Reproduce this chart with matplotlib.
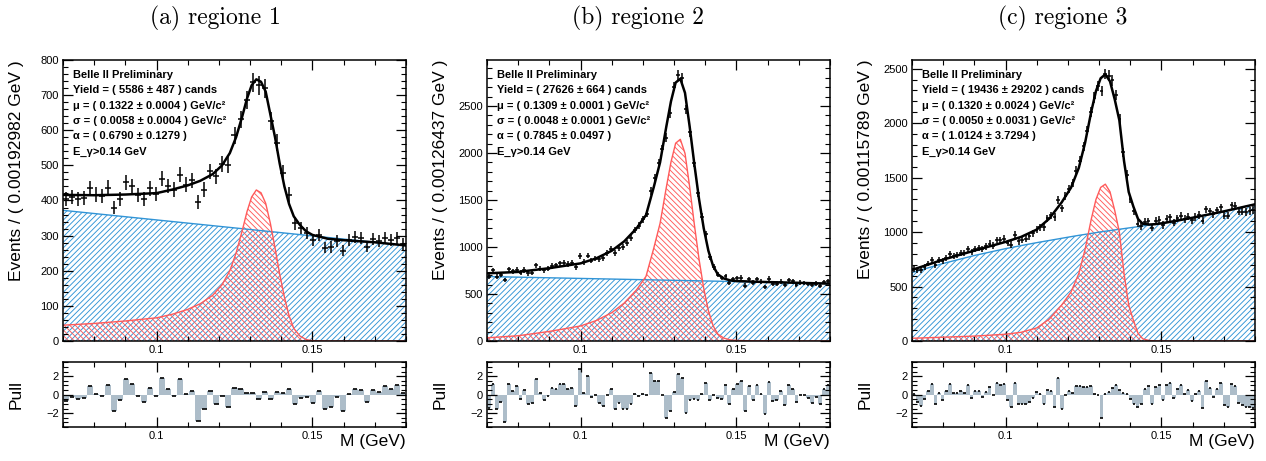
import numpy as np
import matplotlib.pyplot as plt
from matplotlib.ticker import MultipleLocator, FormatStrFormatter

plt.rcParams['font.family'] = ['Liberation Sans', 'DejaVu Sans']
plt.rcParams['hatch.linewidth'] = 0.65

#---- values ----#
x_lo, x_hi = 0.07, 0.18

# x points where the fitted curves were read
curve_x = [0.070, 0.080, 0.090, 0.100, 0.105, 0.110, 0.114, 0.118, 0.121, 0.1235,
           0.1255, 0.1275, 0.129, 0.1305, 0.132, 0.1335, 0.135, 0.1365, 0.138, 0.1395,
           0.141, 0.1425, 0.144, 0.146, 0.148, 0.150, 0.155, 0.160, 0.170, 0.180]

# region 1 : 57 bins
r1_counts = [403, 411, 405, 408, 435, 417, 413, 437, 380, 405,
             452, 441, 416, 403, 435, 419, 462, 441, 431, 473,
             445, 457, 395, 431, 483, 469, 504, 502, 586, 631,
             686, 736, 728, 719, 627, 565, 479, 417, 335, 322,
             308, 287, 302, 266, 267, 285, 257, 287, 296, 292,
             269, 290, 285, 294, 288, 293, 276]
r1_pull = [-0.64, -0.2, -0.5, -0.35, 0.96, 0.1, -0.1, 1.03, -1.74, -0.57,
           1.7, 1.13, -0.1, -0.78, 0.74, -0.1, 1.8, 0.57, -0.1, 1.67,
           0.1, 0.4, -2.87, -1.52, 0.39, -0.96, -0.18, -1.3, 0.74, 0.6,
           0.18, 0.18, -0.5, 0.25, -0.43, 0.28, 0.2, 0.6, -1.06, -0.39,
           -0.2, -0.89, 0.35, -1.5, -1.35, -0.2, -1.77, 0.04, 0.64, 0.5,
           -0.82, 0.5, 0.28, 0.96, 0.67, 1.1, 0.18]
r1_total = [416, 415, 417, 421, 431, 443, 456, 475, 500, 535,
            580, 640, 690, 728, 745, 738, 710, 645, 580, 505,
            440, 390, 355, 330, 312, 302, 291, 287, 281, 272]
r1_sig = [45, 50, 57, 66, 76, 90, 106, 130, 160, 200,
          250, 315, 368, 410, 430, 422, 392, 335, 265, 190,
          125, 72, 36, 14, 4, 1, 0, 0, 0, 0]
r1_bkg_x = [0.07, 0.18]
r1_bkg = [372, 272]

# region 2 : 87 bins
r2_counts = [683, 754, 682, 705, 649, 762, 743, 758, 726, 756,
             719, 728, 806, 768, 752, 768, 799, 804, 826, 833,
             821, 833, 784, 905, 841, 909, 855, 876, 869, 879,
             936, 975, 938, 991, 999, 1041, 1101, 1183, 1228, 1295,
             1355, 1595, 1732, 1897, 2044, 2165, 2425, 2707, 2830, 2800,
             2464, 2223, 1893, 1577, 1323, 1134, 895, 788, 703, 670,
             688, 620, 657, 668, 674, 590, 657, 619, 658, 632,
             575, 662, 608, 610, 633, 594, 648, 637, 600, 619,
             618, 608, 594, 609, 590, 628, 636]
r2_pull = [-1.42, 1.17, -1.6, -0.82, -2.98, 1.17, 0.39, 0.89, -0.43, 0.46,
           -1.06, -0.92, 1.74, 0.18, -0.57, -0.18, 0.71, 0.64, 1.2, 1.2,
           0.57, 0.74, -1.2, 2.77, 0.18, 2.02, -0.28, -0.04, -0.89, -1.24,
           -0.04, 0.57, -1.6, -0.89, -1.6, -1.5, -1.03, 0.1, -0.1, 0.1,
           0.0, 2.3, 1.52, 1.45, 0.0, -2.5, -1.74, 0.3, 2.2, 1.8,
           -1.95, -0.6, -0.46, -0.53, 0.04, 1.24, -0.6, 0.0, -0.35, -0.46,
           1.1, -1.06, 0.64, 1.17, 1.52, -1.77, 0.96, -0.53, 1.1, 0.1,
           -2.1, 1.38, -0.7, -0.6, 0.35, -1.17, 1.06, 0.64, -0.82, 0.0,
           0.0, -0.35, -0.89, -0.25, -0.96, 0.64, 1.0]
r2_total = [720, 735, 775, 826, 879, 960, 1060, 1200, 1340, 1640,
            1900, 2280, 2550, 2750, 2790, 2640, 2280, 1880, 1510, 1200,
            960, 800, 710, 665, 645, 638, 632, 627, 619, 610]
r2_sig = [34, 56, 102, 160, 217, 301, 404, 546, 688, 990,
          1251, 1633, 1904, 2105, 2146, 1997, 1638, 1239, 870, 561,
          322, 163, 74, 30, 12, 6, 2, 1, 0, 0]
r2_bkg_x = [0.07, 0.18]
r2_bkg = [686, 612]

# region 3 : 95 bins
r3_counts = [661, 649, 649, 680, 711, 743, 696, 740, 732, 765,
             798, 780, 790, 806, 808, 843, 814, 844, 853, 844,
             869, 893, 876, 927, 928, 940, 898, 886, 976, 915,
             926, 939, 961, 988, 1020, 1045, 1044, 1125, 1154, 1138,
             1291, 1218, 1328, 1393, 1452, 1563, 1656, 1787, 1931, 2104,
             2235, 2343, 2294, 2452, 2437, 2392, 2257, 2037, 1732, 1528,
             1306, 1192, 1076, 1054, 1094, 1099, 1040, 1101, 1111, 1065,
             1122, 1135, 1087, 1127, 1149, 1121, 1142, 1108, 1140, 1157,
             1103, 1209, 1190, 1162, 1199, 1227, 1152, 1152, 1245, 1243,
             1188, 1187, 1186, 1196, 1201]
r3_pull = [0.1, -0.78, -1.2, -0.43, 0.35, 1.13, -1.03, 0.18, -0.53, 0.35,
           1.2, 0.18, 0.21, 0.43, 0.14, 1.06, -0.32, 0.43, 0.43, -0.25,
           0.32, 0.82, -0.07, 1.31, 1.03, 1.13, -0.6, -1.35, 1.24, -1.06,
           -1.06, -1.06, -0.78, -0.35, 0.25, 0.07, -0.96, 0.53, 0.35, -1.38,
           1.77, -1.6, 0.0, 0.35, 0.2, 0.9, 0.9, 0.82, 0.85, 0.92,
           0.1, -0.07, -2.55, 0.1, 0.28, 0.75, 1.0, 0.53, 0.18, 0.1,
           -0.46, -0.96, -1.38, -1.06, 0.6, 0.92, -0.96, 0.82, 1.0, -0.53,
           1.03, 1.24, -0.39, 0.64, 1.1, 0.1, 0.53, -0.67, 0.1, 0.39,
           -1.42, 1.52, 0.75, -0.25, 0.64, 1.24, -1.13, -1.31, 1.17, 0.89,
           -0.89, -1.13, -1.38, -1.31, -1.42]
r3_total = [653, 747, 830, 910, 956, 1023, 1123, 1273, 1408, 1590,
            1819, 2108, 2295, 2412, 2448, 2384, 2220, 2026, 1652, 1368,
            1234, 1120, 1076, 1069, 1073, 1080, 1105, 1132, 1190, 1255]
r3_sig = [25, 35, 45, 62, 80, 120, 200, 330, 450, 620,
          840, 1120, 1300, 1410, 1440, 1370, 1200, 1000, 620, 330,
          190, 70, 20, 5, 1, 0, 0, 0, 0, 0]
r3_bkg_x = curve_x
r3_bkg = [628, 712, 785, 848, 876, 903, 923, 943, 958, 970,
          979, 988, 995, 1002, 1008, 1014, 1020, 1026, 1032, 1038,
          1044, 1050, 1056, 1064, 1072, 1080, 1105, 1132, 1190, 1255]

titles = ['(a) regione 1', '(b) regione 2', '(c) regione 3']
bin_widths = ['0.00192982', '0.00126437', '0.00115789']
yields = ['5586 \u00b1 487', '27626 \u00b1 664', '19436 \u00b1 29202']
mus = ['0.1322 \u00b1 0.0004', '0.1309 \u00b1 0.0001', '0.1320 \u00b1 0.0024']
sigmas = ['0.0058 \u00b1 0.0004', '0.0048 \u00b1 0.0001', '0.0050 \u00b1 0.0031']
alphas = ['0.6790 \u00b1 0.1279', '0.7845 \u00b1 0.0497', '1.0124 \u00b1 3.7294']

blue = '#3194d6'
red = '#ff5a5a'
pull_col = '#adbdc9'

W, H = 1266, 461
fig = plt.figure(figsize=(W / 100, H / 100), dpi=100)

panel_left = [63, 487, 912]
title_x = [215, 638, 1063]
ymaxes = [800, 2990, 2580]
ysteps = [(100, 20), (500, 100), (500, 100)]
regions = [(r1_counts, r1_pull, r1_total, r1_sig, r1_bkg_x, r1_bkg),
           (r2_counts, r2_pull, r2_total, r2_sig, r2_bkg_x, r2_bkg),
           (r3_counts, r3_pull, r3_total, r3_sig, r3_bkg_x, r3_bkg)]


def root_ticks(a):
    a.tick_params(which='both', direction='in', top=True, right=True, labelsize=8, pad=3)
    a.tick_params(which='major', length=7, width=0.9)
    a.tick_params(which='minor', length=3.5, width=0.8)
    a.xaxis.set_major_locator(MultipleLocator(0.05))
    a.xaxis.set_minor_locator(MultipleLocator(0.01))
    a.xaxis.set_major_formatter(FormatStrFormatter('%g'))
    for s in a.spines.values():
        s.set_linewidth(1.1)


for i in range(3):
    counts, pulls, total, sig, bkg_x, bkg = regions[i]
    x0 = panel_left[i] / W
    w = 343 / W
    ax = fig.add_axes([x0, 1 - 341 / H, w, 281 / H])
    axp = fig.add_axes([x0, 1 - 427 / H, w, 64.6 / H])

    nb = len(counts)
    edges = np.linspace(x_lo, x_hi, nb + 1)
    centers = 0.5 * (edges[1:] + edges[:-1])
    bw = edges[1] - edges[0]

    # background and signal components
    ax.fill_between(bkg_x, 0, bkg, facecolor='none', edgecolor=blue, hatch='//////', lw=0)
    ax.plot(bkg_x, bkg, color=blue, lw=1.0)
    ax.fill_between(curve_x, 0, sig, facecolor='none', edgecolor=red, hatch='\\\\\\\\\\\\', lw=0)
    ax.plot(curve_x, sig, color=red, lw=1.0)
    # total fit and data
    ax.plot(curve_x, total, color='black', lw=1.8)
    ax.errorbar(centers, counts, xerr=bw / 2, yerr=np.sqrt(counts), fmt='none',
                ecolor='black', elinewidth=1.1)

    ax.set_xlim(x_lo, x_hi)
    ax.set_ylim(0, ymaxes[i])
    root_ticks(ax)
    ax.yaxis.set_major_locator(MultipleLocator(ysteps[i][0]))
    ax.yaxis.set_minor_locator(MultipleLocator(ysteps[i][1]))
    ax.set_ylabel('Events / ( ' + bin_widths[i] + ' GeV )', fontsize=12.5)
    ax.yaxis.label.set_va('center')
    ax.yaxis.label.set_ha('right')
    ax.yaxis.set_label_coords(-0.137, 1.0)

    lines = ['Belle II Preliminary',
             'Yield = ( ' + yields[i] + ' ) cands',
             '\u03bc = ( ' + mus[i] + ' ) GeV/c\u00b2',
             '\u03c3 = ( ' + sigmas[i] + ' ) GeV/c\u00b2',
             '\u03b1 = ( ' + alphas[i] + ' )',
             'E_\u03b3>0.14 GeV']
    for j in range(len(lines)):
        ax.text(0.03, 0.947 - j * 0.0545, lines[j], transform=ax.transAxes,
                fontsize=8, fontweight='bold', va='center', ha='left')

    # pull plot
    axp.bar(centers, pulls, width=bw, color=pull_col, lw=0)
    axp.errorbar(centers, pulls, xerr=bw * 0.35, fmt='none', ecolor='black', elinewidth=1.2)
    axp.set_xlim(x_lo, x_hi)
    axp.set_ylim(-3.5, 3.5)
    root_ticks(axp)
    axp.yaxis.set_major_locator(MultipleLocator(2))
    axp.yaxis.set_minor_locator(MultipleLocator(0.5))
    axp.set_ylabel('Pull', fontsize=12.5)
    axp.yaxis.label.set_va('center')
    axp.yaxis.set_label_coords(-0.137, 0.5)
    axp.set_xlabel('M (GeV)', fontsize=12.5)
    axp.xaxis.label.set_ha('right')
    axp.xaxis.label.set_va('center')
    axp.xaxis.set_label_coords(1.0, -0.223)

    fig.text(title_x[i] / W, 1 - 18 / H, titles[i], ha='center', va='center',
             fontsize=17, family='cmr10')

fig.savefig('out.png', dpi=100)
